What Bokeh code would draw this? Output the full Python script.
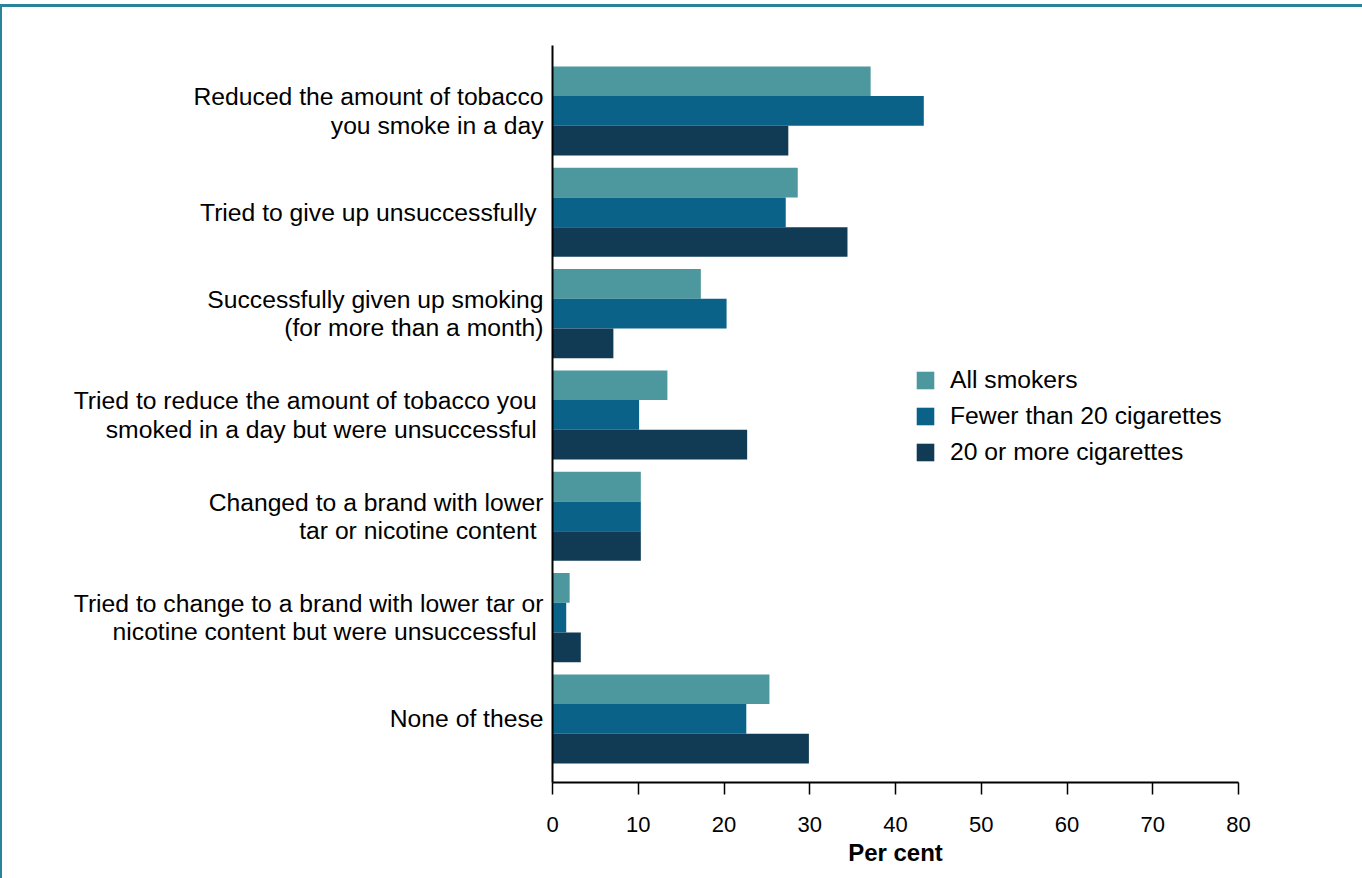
from bokeh.plotting import figure
from bokeh.models import Range1d, FixedTicker, ColumnDataSource
from bokeh.transform import dodge
from bokeh.embed import file_html
from bokeh.resources import INLINE

categories = [
    "Reduced the amount of tobacco\nyou smoke in a day",
    "Tried to give up unsuccessfully ",
    "Successfully given up smoking\n(for more than a month)",
    "Tried to reduce the amount of tobacco you \nsmoked in a day but were unsuccessful ",
    "Changed to a brand with lower\ntar or nicotine content ",
    "Tried to change to a brand with lower tar or\nnicotine content but were unsuccessful ",
    "None of these",
]
series_names = ["All smokers", "Fewer than 20 cigarettes", "20 or more cigarettes"]
all_smokers = [37.1, 28.6, 17.3, 13.4, 10.3, 2.0, 25.3]
fewer_than_20 = [43.3, 27.2, 20.3, 10.1, 10.3, 1.6, 22.6]
twenty_or_more = [27.5, 34.4, 7.1, 22.7, 10.3, 3.3, 29.9]
x_ticks = [0, 10, 20, 30, 40, 50, 60, 70, 80]
x_title = "Per cent"

colors = ["#4d989e", "#0a6289", "#113b54"]
FONT = "Liberation Sans"
border_color = "#2a8399"

source = ColumnDataSource(data=dict(
    y=list(range(len(categories))),
    all_smokers=all_smokers,
    fewer_than_20=fewer_than_20,
    twenty_or_more=twenty_or_more,
))

p = figure(
    width=1362, height=878,
    output_backend="svg", toolbar_location=None,
    x_range=Range1d(0, 80),
    y_range=Range1d(6.627, -0.646),
    min_border_left=552, min_border_right=124,
    min_border_top=45, min_border_bottom=96,
)
p.outline_line_color = None
p.xgrid.visible = False
p.ygrid.visible = False
p.background_fill_color = "white"
p.border_fill_color = None
# teal frame lines of the original graphic (top and left edges), drawn as the page background
p.styles = {
    "background": (
        f"linear-gradient({border_color}, {border_color}) 0px 4px / 100% 3px no-repeat, "
        f"linear-gradient({border_color}, {border_color}) 0px 4px / 2px 100% no-repeat, "
        "white"
    )
}

bar_h = 0.293
cols = ["all_smokers", "fewer_than_20", "twenty_or_more"]
offsets = [-bar_h, 0.0, bar_h]
for col, name, color, off in zip(cols, series_names, colors, offsets):
    p.hbar(y=dodge("y", off, range=p.y_range), left=0, right=col, height=bar_h,
           source=source, fill_color=color, line_color=None, legend_label=name)

# y axis
yax = p.yaxis[0]
yax.ticker = FixedTicker(ticks=list(range(len(categories))))
yax.major_label_overrides = {i: c for i, c in enumerate(categories)}
yax.major_tick_line_color = None
yax.minor_tick_line_color = None
yax.axis_line_width = 2
yax.axis_line_color = "black"
yax.major_label_text_font = FONT
yax.major_label_text_font_size = "24.7px"
yax.major_label_text_line_height = 1.05
yax.major_label_text_color = "black"
yax.major_label_standoff = 3

# x axis
xax = p.xaxis[0]
xax.ticker = FixedTicker(ticks=x_ticks)
xax.minor_tick_line_color = None
xax.major_tick_out = 12
xax.major_tick_in = 0
xax.major_tick_line_width = 1.5
xax.major_tick_line_color = "black"
xax.axis_line_width = 2
xax.axis_line_color = "black"
xax.major_label_text_font = FONT
xax.major_label_text_font_size = "22px"
xax.major_label_text_color = "black"
xax.major_label_standoff = 22
xax.axis_label = x_title
xax.axis_label_text_font = FONT
xax.axis_label_text_font_size = "24px"
xax.axis_label_text_font_style = "bold"
xax.axis_label_text_color = "black"
xax.axis_label_standoff = 4

leg = p.legend[0]
leg.location = (362, 316)
leg.orientation = "vertical"
leg.glyph_width = 22
leg.glyph_height = 22
leg.label_height = 22
leg.label_standoff = 14
leg.spacing = 8
leg.padding = 0
leg.margin = 0
leg.border_line_color = None
leg.background_fill_alpha = 0
leg.label_text_font = FONT
leg.label_text_font_size = "24.7px"
leg.label_text_color = "black"

open("out.html", "w").write(file_html(p, INLINE))
